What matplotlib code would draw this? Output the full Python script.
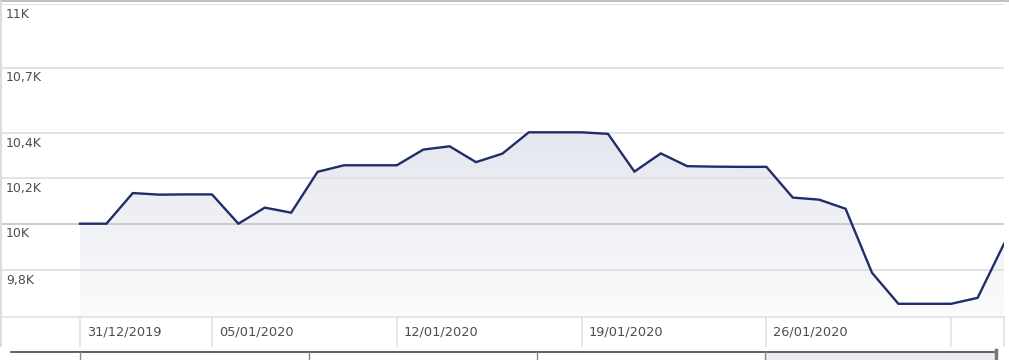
import numpy as np
import pandas as pd
import matplotlib
matplotlib.use("Agg")
import matplotlib.pyplot as plt
import matplotlib.dates as mdates
from matplotlib.lines import Line2D
from matplotlib.patches import Rectangle

# daily closes, 31/12/2019 .. 04/02/2020
values = [10000, 10000, 10134, 10127, 10128, 10128, 10000, 10070, 10048, 10228,
          10257, 10257, 10257, 10327, 10342, 10271, 10309, 10405, 10405, 10405,
          10398, 10229, 10310, 10253, 10251, 10250, 10250, 10114, 10105, 10065,
          9789, 9658, 9658, 9658, 9683, 9913]
dates = pd.date_range("2019-12-31", periods=len(values), freq="D")

ytick_vals = [9800, 10000, 10200, 10400, 10700, 11000]
ytick_labels = ["9,8K", "10K", "10,2K", "10,4K", "10,7K", "11K"]
xtick_dates = ["2019-12-31", "2020-01-05", "2020-01-12", "2020-01-19", "2020-01-26", "2020-02-02"]
xtick_labels = ["31/12/2019", "05/01/2020", "12/01/2020", "19/01/2020", "26/01/2020", ""]

W, H = 1009, 360
fig = plt.figure(figsize=(W / 100, H / 100), dpi=100)
fig.patch.set_facecolor("white")


def fx(x):
    return x / W


def fy(y):
    return 1 - y / H


ax_left, ax_right, ax_top, ax_bot = 2, 1004, 4.3, 316.7
ax = fig.add_axes([fx(ax_left), fy(ax_bot), fx(ax_right - ax_left), (ax_bot - ax_top) / H])
ax.set_yscale("log")
ax.set_ylim(9604, 11000)
x0 = mdates.date2num(dates[0])
x1 = mdates.date2num(dates[-1])
ax.set_xlim(x0 - (80 - ax_left) / 26.4, x1)
ax.set_xticks([])
ax.set_yticks([])
ax.minorticks_off()
for s in ax.spines.values():
    s.set_visible(False)
ax.patch.set_alpha(0)

xs = mdates.date2num(dates)
fill = ax.fill_between(xs, values, 9604, color="none", lw=0)
grad = np.linspace(0, 1, 256).reshape(-1, 1)
top_c = np.array([229, 231, 239]) / 255
bot_c = np.array([251, 251, 252]) / 255
rgb = top_c[None, None, :] * (1 - grad[:, :, None]) + bot_c[None, None, :] * grad[:, :, None]
im = ax.imshow(rgb, extent=[0, 1, 0, 1], transform=ax.transAxes, aspect="auto",
               origin="upper", zorder=1)
y_top_ax = (np.log(max(values)) - np.log(9604)) / (np.log(11000) - np.log(9604))
im.set_extent([0, 1, 0, y_top_ax])
im.set_clip_path(fill.get_paths()[0], transform=ax.transData)

for v, lbl in zip(ytick_vals, ytick_labels):
    c = "#c4c4c4" if v == 10000 else "#dedede"
    ax.axhline(v, color=c, lw=1.2, zorder=2)
    ax.annotate(lbl, xy=(0, v), xycoords=("axes fraction", "data"),
                xytext=(4, -10), textcoords="offset pixels", va="center", ha="left",
                fontsize=9, color="#4d4d4d")

ax.plot(xs, values, color="#1f2d6b", lw=1.7, zorder=3, solid_joinstyle="miter")

# x axis line, ticks and labels
ax.axhline(9604, color="#e2e2e2", lw=1.2, zorder=2, clip_on=False)
trans = ax.get_xaxis_transform()
tick_len = 29 / (ax_bot - ax_top)
for d, lbl in zip(xtick_dates, xtick_labels):
    xd = mdates.date2num(pd.Timestamp(d))
    ax.plot([xd, xd], [0, -tick_len], transform=trans, color="#e2e2e2", lw=1.2, clip_on=False)
    ax.annotate(lbl, xy=(xd, 0), xycoords=trans, xytext=(7, -15), textcoords="offset pixels",
                va="center", ha="left", fontsize=9.3, color="#4d4d4d")
ax.plot([1, 1], [0, -tick_len], transform=ax.transAxes, color="#e2e2e2", lw=1.2, clip_on=False)

# frame lines
fig.add_artist(Line2D([0, 1], [fy(0.5), fy(0.5)], color="#c0c0c0", lw=1.5))
fig.add_artist(Line2D([fx(1), fx(1)], [fy(0), fy(346)], color="#d6d6d6", lw=1.2))

# navigator strip
fig.add_artist(Rectangle((fx(765), fy(360)), fx(995 - 765), 7 / H, color="#eaecf2", lw=0))
fig.add_artist(Line2D([fx(11), fx(996)], [fy(352), fy(352)], color="#444444", lw=1.2))
for xp in [80, 309, 537, 765]:
    fig.add_artist(Line2D([fx(xp), fx(xp)], [fy(352), fy(360)], color="#888888", lw=1))
fig.add_artist(Line2D([fx(996), fx(996)], [fy(350), fy(360)], color="#777777", lw=2.5))

fig.savefig("out.png", dpi=100)
